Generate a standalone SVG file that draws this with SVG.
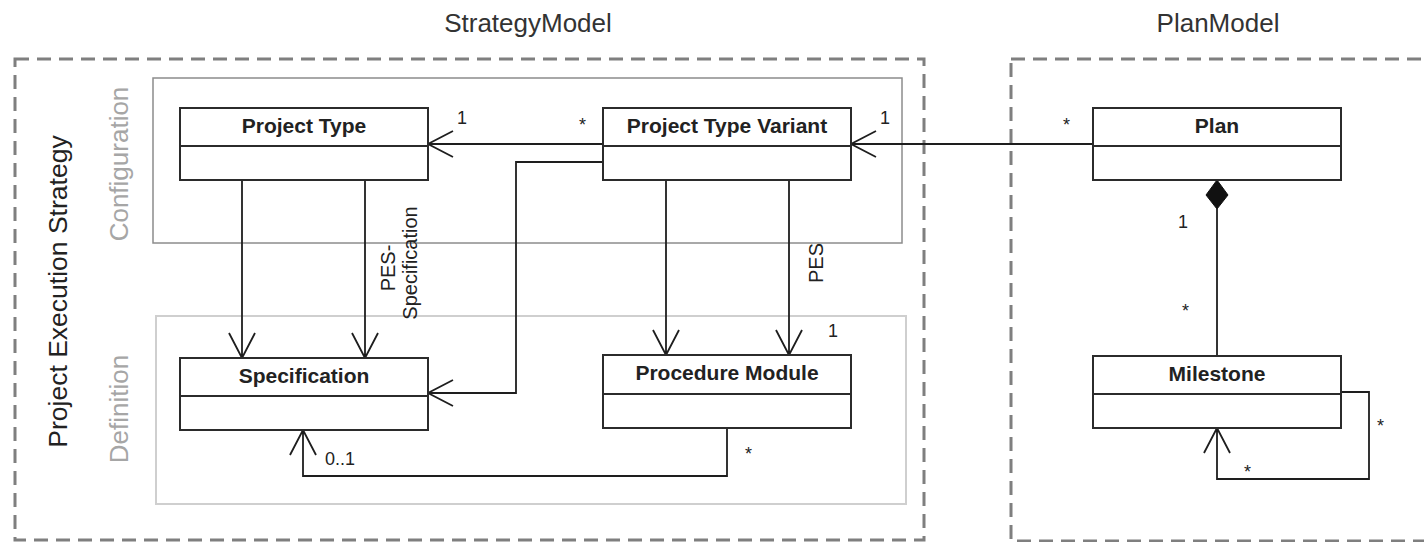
<svg xmlns="http://www.w3.org/2000/svg" width="1424" height="542" viewBox="0 0 1424 542">
  <defs>
    <style>
      .pkg { fill: none; stroke: #7f7f7f; stroke-width: 3; stroke-dasharray: 14 8; }
      .cfg { fill: none; stroke: #8c8c8c; stroke-width: 1.5; }
      .def { fill: none; stroke: #cfcfcf; stroke-width: 2; }
      .box { fill: #ffffff; stroke: #2b2b2b; stroke-width: 2; }
      .sep { stroke: #2b2b2b; stroke-width: 2; }
      .title { font-family: "Liberation Sans", Arial, sans-serif; font-size: 21px; font-weight: bold; fill: #222; text-anchor: middle; }
      .pkglabel { font-family: "Liberation Sans", Arial, sans-serif; font-size: 26px; fill: #333; text-anchor: middle; }
      .layer { font-family: "Liberation Sans", Arial, sans-serif; font-size: 26px; fill: #a6a6a6; text-anchor: middle; }
      .side { font-family: "Liberation Sans", Arial, sans-serif; font-size: 26.5px; fill: #222; text-anchor: middle; }
      .mult { font-family: "Liberation Sans", Arial, sans-serif; font-size: 18px; fill: #222; }
      .role { font-family: "Liberation Sans", Arial, sans-serif; font-size: 20px; fill: #222; text-anchor: middle; }
      .edge { fill: none; stroke: #1e1e1e; stroke-width: 1.8; }
    </style>
  </defs>

  <rect width="1424" height="542" fill="#ffffff"/>

  <!-- package frames -->
  <g id="strategy-model">
    <rect class="pkg" x="15" y="59" width="909" height="481"/>
    <text class="pkglabel" x="528" y="32">StrategyModel</text>
  </g>
  <g id="plan-model">
    <rect class="pkg" x="1011" y="59" width="440" height="482"/>
    <text class="pkglabel" x="1218" y="32">PlanModel</text>
  </g>

  <!-- side label -->
  <text class="side" transform="translate(67,291.5) rotate(-90)">Project Execution Strategy</text>

  <!-- layers -->
  <g id="configuration-layer">
    <rect class="cfg" x="153" y="78" width="749" height="165"/>
    <text class="layer" transform="translate(128,164) rotate(-90)">Configuration</text>
  </g>
  <g id="definition-layer">
    <rect class="def" x="156" y="316" width="750" height="188"/>
    <text class="layer" transform="translate(128,409) rotate(-90)">Definition</text>
  </g>

  <!-- connectors -->
  <g id="connectors">
    <!-- Project Type Variant -> Project Type -->
    <path class="edge" d="M603,144 H428 M453,131 L428,144 L453,157"/>
    <!-- Plan -> Project Type Variant -->
    <path class="edge" d="M1093,144 H851 M876,131 L851,144 L876,157"/>
    <!-- Project Type -> Specification (two) -->
    <path class="edge" d="M242,180 V358 M229,333 L242,358 L255,333"/>
    <path class="edge" d="M365,180 V358 M352,333 L365,358 L378,333"/>
    <!-- Project Type Variant -> Specification -->
    <path class="edge" d="M603,162 H516 V393 H428 M453,380 L428,393 L453,406"/>
    <!-- Project Type Variant -> Procedure Module (two) -->
    <path class="edge" d="M666,180 V355 M653,330 L666,355 L679,330"/>
    <path class="edge" d="M789,180 V355 M776,330 L789,355 L802,330"/>
    <!-- Procedure Module -> Specification -->
    <path class="edge" d="M727,428 V476 H303 V430 M290,455 L303,430 L316,455"/>
    <!-- Plan <>- Milestone composition -->
    <path class="edge" d="M1217,209 V356"/>
    <path d="M1217,180 L1228,195 L1217,209 L1206,195 Z" fill="#111" stroke="#111" stroke-width="1"/>
    <!-- Milestone self association -->
    <path class="edge" d="M1341,392 H1369 V479 H1217 V428 M1204,453 L1217,428 L1230,453"/>

    <!-- multiplicities -->
    <text class="mult" x="457" y="124">1</text>
    <text class="mult" x="579" y="131">*</text>
    <text class="mult" x="880" y="124">1</text>
    <text class="mult" x="1063" y="131">*</text>
    <text class="mult" x="828" y="337">1</text>
    <text class="mult" x="325" y="465">0..1</text>
    <text class="mult" x="745" y="460">*</text>
    <text class="mult" x="1178" y="228">1</text>
    <text class="mult" x="1182" y="317">*</text>
    <text class="mult" x="1377" y="432">*</text>
    <text class="mult" x="1244" y="478">*</text>

    <!-- role names -->
    <text class="role" transform="translate(395,268) rotate(-90)">PES-</text>
    <text class="role" transform="translate(417,263) rotate(-90)">Specification</text>
    <text class="role" transform="translate(823,263) rotate(-90)">PES</text>
  </g>

  <!-- classes -->
  <g id="project-type">
    <rect class="box" x="180" y="108" width="248" height="72"/>
    <line class="sep" x1="180" y1="146" x2="428" y2="146"/>
    <text class="title" x="304" y="132.5">Project Type</text>
  </g>
  <g id="project-type-variant">
    <rect class="box" x="603" y="108" width="248" height="72"/>
    <line class="sep" x1="603" y1="146" x2="851" y2="146"/>
    <text class="title" x="727" y="132.5">Project Type Variant</text>
  </g>
  <g id="specification">
    <rect class="box" x="180" y="358" width="248" height="72"/>
    <line class="sep" x1="180" y1="396" x2="428" y2="396"/>
    <text class="title" x="304" y="382.5">Specification</text>
  </g>
  <g id="procedure-module">
    <rect class="box" x="603" y="355" width="248" height="73"/>
    <line class="sep" x1="603" y1="394" x2="851" y2="394"/>
    <text class="title" x="727" y="380">Procedure Module</text>
  </g>
  <g id="plan">
    <rect class="box" x="1093" y="108" width="248" height="72"/>
    <line class="sep" x1="1093" y1="146" x2="1341" y2="146"/>
    <text class="title" x="1217" y="132.5">Plan</text>
  </g>
  <g id="milestone">
    <rect class="box" x="1093" y="356" width="248" height="72"/>
    <line class="sep" x1="1093" y1="394" x2="1341" y2="394"/>
    <text class="title" x="1217" y="380.5">Milestone</text>
  </g>
</svg>
